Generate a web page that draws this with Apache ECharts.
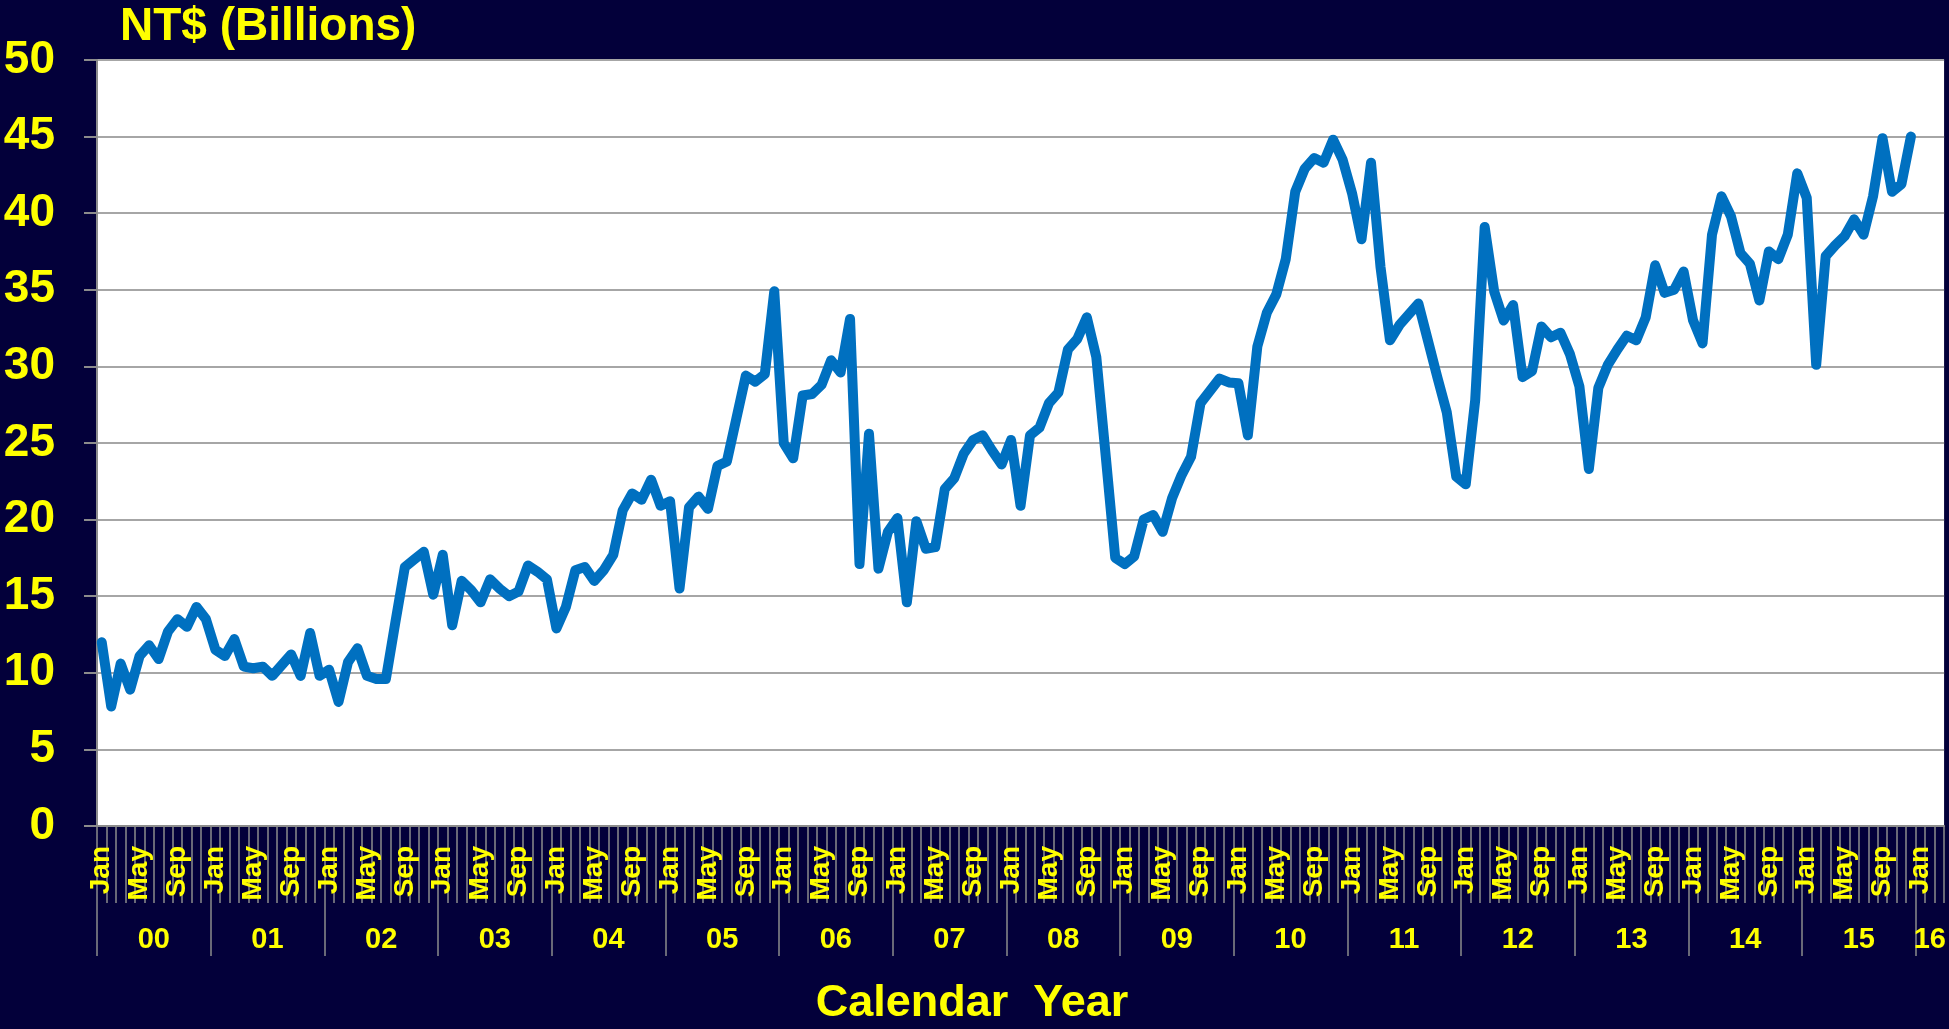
<!DOCTYPE html>
<html>
<head>
<meta charset="utf-8">
<script src="https://cdn.jsdelivr.net/npm/echarts@6/dist/echarts.min.js"></script>
<style>
  html, body { margin: 0; padding: 0; background: #03003a; }
  #chart { width: 1949px; height: 1029px; }
</style>
</head>
<body>
<div id="chart"></div>
<script>
// ---- data ----
const monthNames = ['Jan','Feb','Mar','Apr','May','Jun','Jul','Aug','Sep','Oct','Nov','Dec'];
const yearLabels = ['00','01','02','03','04','05','06','07','08','09','10','11','12','13','14','15','16'];
const shownMonths = ['Jan','May','Sep'];
const axisTitle = 'NT$ (Billions)';
const xTitle = 'Calendar  Year';

const v2000 = [12.0, 7.8, 10.6, 8.9, 11.1, 11.8, 10.9, 12.7, 13.5, 13.0, 14.3, 13.5];
const v2001 = [11.5, 11.1, 12.2, 10.4, 10.3, 10.4, 9.8, 10.5, 11.2, 9.8, 12.6, 9.8];
const v2002 = [10.2, 8.1, 10.7, 11.6, 9.8, 9.6, 9.6, 13.3, 16.9, 17.4, 17.9, 15.1];
const v2003 = [17.7, 13.1, 16.0, 15.4, 14.6, 16.1, 15.5, 15.0, 15.3, 17.0, 16.6, 16.1];
const v2004 = [12.9, 14.3, 16.7, 16.9, 16.0, 16.7, 17.7, 20.6, 21.7, 21.3, 22.6, 20.9];
const v2005 = [21.2, 15.5, 20.8, 21.5, 20.7, 23.5, 23.8, 26.6, 29.4, 29.0, 29.5, 34.9];
const v2006 = [25.0, 24.0, 28.1, 28.2, 28.8, 30.4, 29.6, 33.1, 17.1, 25.6, 16.8, 19.2];
const v2007 = [20.1, 14.6, 19.9, 18.1, 18.2, 22.0, 22.7, 24.3, 25.2, 25.5, 24.5, 23.6];
const v2008 = [25.2, 20.9, 25.5, 26.0, 27.6, 28.3, 31.1, 31.8, 33.2, 30.6, 24.1, 17.5];
const v2009 = [17.1, 17.6, 20.0, 20.3, 19.2, 21.4, 22.9, 24.1, 27.6, 28.4, 29.2, 28.95];
const v2010 = [28.9, 25.5, 31.3, 33.5, 34.7, 37.0, 41.4, 42.9, 43.6, 43.3, 44.8, 43.5];
const v2011 = [41.3, 38.3, 43.3, 36.5, 31.7, 32.7, 33.4, 34.1, 31.7, 29.3, 27.0, 22.8];
const v2012 = [22.3, 27.8, 39.1, 34.9, 33.0, 34.0, 29.3, 29.7, 32.6, 31.9, 32.2, 30.8];
const v2013 = [28.7, 23.3, 28.6, 30.1, 31.1, 32.0, 31.7, 33.2, 36.6, 34.8, 35.0, 36.2];
const v2014 = [33.0, 31.5, 38.6, 41.1, 39.8, 37.4, 36.7, 34.3, 37.5, 37.0, 38.6, 42.6];
const v2015 = [41.0, 30.1, 37.2, 37.9, 38.5, 39.6, 38.6, 41.1, 44.9, 41.4, 41.9, 45.0];
const v2016 = []; // axis extends through Mar 2016, no data

const yearValues = [v2000, v2001, v2002, v2003, v2004, v2005, v2006, v2007, v2008,
                    v2009, v2010, v2011, v2012, v2013, v2014, v2015];

// categories: Jan 2000 .. Mar 2016
const categories = [];
for (let y = 0; y < 16; y++) for (let m = 0; m < 12; m++) categories.push(monthNames[m]);
for (let m = 0; m < 3; m++) categories.push(monthNames[m]);

const values = [].concat(...yearValues, v2016);

// year axis positions (month units)
const yearTicks = [];
const yearLabelPos = [];
for (let y = 0; y <= 16; y++) {
  yearTicks.push(y * 12);
  yearLabelPos.push(y < 16 ? y * 12 + 6 : 193.5);
}

const YELLOW = '#ffff00';
const FONT = '"Liberation Sans", Arial, sans-serif';
const GRAY = '#8c8c8c';

const chart = echarts.init(document.getElementById('chart'), null, { renderer: 'canvas' });
chart.setOption({
  backgroundColor: '#03003a',
  animation: false,
  grid: {
    left: 97, right: 1, top: 60, bottom: 203,
    show: true, backgroundColor: '#ffffff', borderWidth: 0
  },
  xAxis: [
    {
      type: 'category',
      data: categories,
      boundaryGap: true,
      position: 'bottom',
      axisLine: { show: true, lineStyle: { color: GRAY, width: 2 } },
      axisTick: { show: true, interval: 0, length: 77, lineStyle: { color: GRAY, width: 1.5 } },
      axisLabel: {
        interval: function (idx, val) { return shownMonths.indexOf(val) >= 0; },
        rotate: 90, margin: 20,
        color: YELLOW, fontSize: 28, fontWeight: 'bold', fontFamily: FONT
      },
      splitLine: { show: false }
    },
    {
      type: 'value',
      min: 0, max: categories.length,
      position: 'bottom',
      offset: 77,
      axisLine: { show: false },
      splitLine: { show: false },
      axisTick: {
        show: true, customValues: yearTicks, length: 53,
        lineStyle: { color: GRAY, width: 1.5 }
      },
      axisLabel: {
        customValues: yearLabelPos,
        margin: 22,
        formatter: function (v) { return yearLabels[Math.floor(v / 12)]; },
        color: YELLOW, fontSize: 29, fontWeight: 'bold', fontFamily: FONT
      }
    }
  ],
  yAxis: {
    type: 'value',
    min: 0, max: 50, interval: 5,
    axisLine: { show: true, lineStyle: { color: GRAY, width: 2 } },
    axisTick: { show: true, length: 13, lineStyle: { color: GRAY, width: 2 } },
    axisLabel: { margin: 42, color: YELLOW, fontSize: 46, fontWeight: 'bold', fontFamily: FONT },
    splitLine: { show: true, lineStyle: { color: '#a6a6a6', width: 2 } }
  },
  series: [{
    type: 'line',
    xAxisIndex: 0,
    data: values,
    showSymbol: false,
    symbol: 'none',
    lineStyle: { color: '#0070c0', width: 10, join: 'round', cap: 'round' },
    z: 5
  }],
  graphic: [
    {
      type: 'text', x: 120, y: 27,
      style: { text: axisTitle, fill: YELLOW, font: 'bold 46px ' + FONT, align: 'left', verticalAlign: 'middle' }
    },
    {
      type: 'text', x: 972, y: 1004,
      style: { text: xTitle, fill: YELLOW, font: 'bold 45px ' + FONT, align: 'center', verticalAlign: 'middle' }
    }
  ]
});
</script>
</body>
</html>
